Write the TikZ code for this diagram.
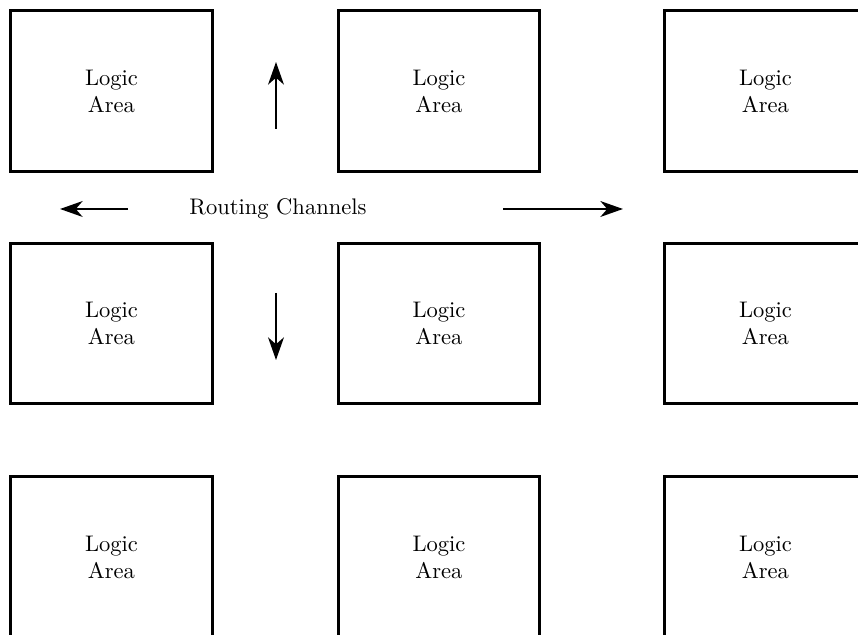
\documentclass[tikz,border=0pt]{standalone}
\usepackage{tikz}
\usetikzlibrary{arrows.meta, positioning}

\begin{document}
\begin{tikzpicture}[x=0.0156cm, y=-0.0156cm,
			area/.style={rectangle, draw=black, line width=1.3pt, minimum width=3.14cm,
				minimum height=2.5cm, align=center, inner sep=0pt},
			chan/.style={-{Stealth[length=10pt, width=7pt, inset=3pt]}, line width=1.1pt}
			]
			\useasboundingbox (0,0) rectangle (858,635);
			\clip (0,0) rectangle (858,635);
			
			\node[area] (a11) at (111.5, 91) {Logic\\Area};
			\node[area] (a12) at (439, 91) {Logic\\Area};
			\node[area] (a13) at (765.5, 91) {Logic\\Area};
			\node[area] (a21) at (111.5, 323.5) {Logic\\Area};
			\node[area] (a22) at (439, 323.5) {Logic\\Area};
			\node[area] (a23) at (765.5, 323.5) {Logic\\Area};
			\node[area] (a31) at (111.5, 557) {Logic\\Area};
			\node[area] (a32) at (439, 557) {Logic\\Area};
			\node[area] (a33) at (765.5, 557) {Logic\\Area};
			
			\node (rc) at (278, 209) {Routing Channels};
			
			\coordinate (up0) at (276, 129);
			\coordinate (up1) at (276, 62);
			\coordinate (dn0) at (276, 293);
			\coordinate (dn1) at (276, 360);
			\coordinate (lt0) at (128, 209);
			\coordinate (lt1) at (60, 209);
			\coordinate (rt0) at (503, 209);
			\coordinate (rt1) at (623, 209);
			
			\draw[chan] (up0) -- (up1);
			\draw[chan] (dn0) -- (dn1);
			\draw[chan] (lt0) -- (lt1);
			\draw[chan] (rt0) -- (rt1);
		\end{tikzpicture}
\end{document}
